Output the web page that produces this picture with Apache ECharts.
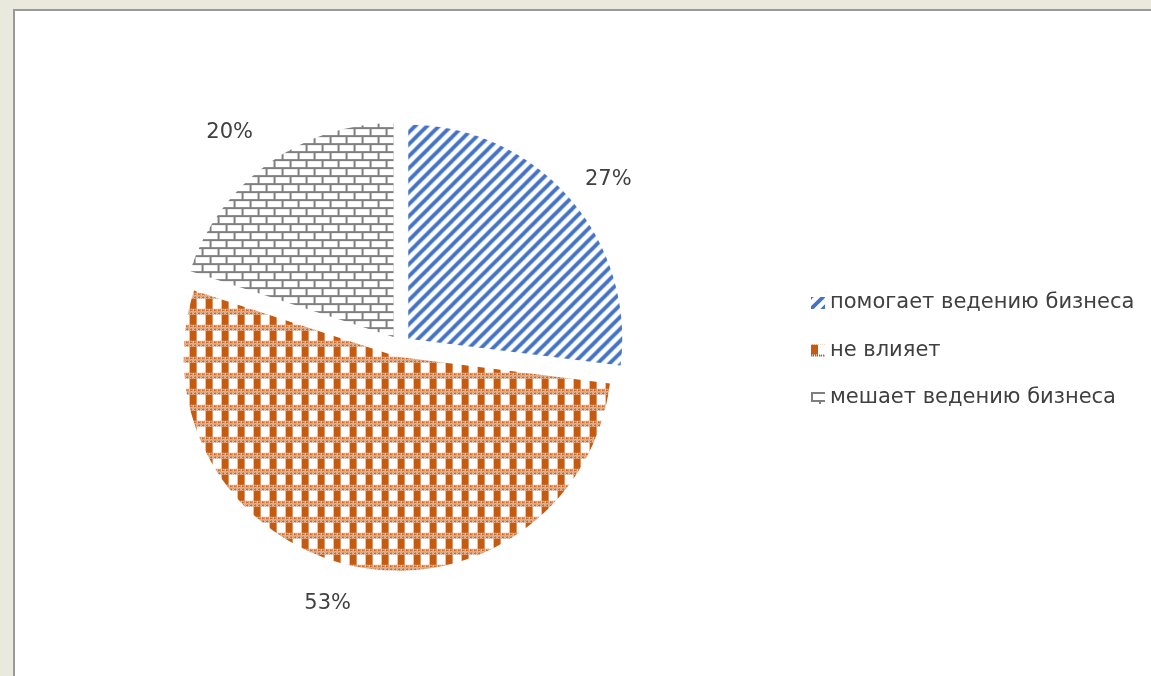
<!DOCTYPE html>
<html><head><meta charset="utf-8">
<script src="https://cdn.jsdelivr.net/npm/echarts@6/dist/echarts.min.js"></script>
<style>
html,body{margin:0;padding:0;width:1151px;height:676px;overflow:hidden;background:#E9E9DE;}
#panel{position:absolute;left:13px;top:9px;width:1200px;height:700px;background:#fff;border-left:2px solid #9a9a9a;border-top:2px solid #9a9a9a;}
#chart{position:absolute;left:0;top:0;width:1151px;height:676px;}
</style></head>
<body>
<div id="panel"></div>
<div id="chart"></div>
<script>
const categories = ['помогает ведению бизнеса', 'не влияет', 'мешает ведению бизнеса'];
const values = [27, 53, 20];

// label placement (pie labelLine lengths; lines hidden)
const labelLen  = [26.8, 38.4, 38.3];
const labelLen2 = [-8.9, -13.5, -12.8];

function mk(w, h, draw){ const c=document.createElement('canvas'); c.width=w; c.height=h; const g=c.getContext('2d'); draw(g,w,h); return c; }
const stripes = mk(12, 12, (g,w,h)=>{
  g.fillStyle='#fff'; g.fillRect(0,0,w,h);
  g.strokeStyle='#4472C4'; g.lineWidth=3.8; g.lineCap='square';
  for (const o of [-w, 0, w]) { g.beginPath(); g.moveTo(o-2, h+2); g.lineTo(o+w+2, -2); g.stroke(); }
});
const plaid = mk(16, 16, (g,w,h)=>{
  g.fillStyle='#fff'; g.fillRect(0,0,w,h);
  g.fillStyle='#C55A11';
  g.fillRect(0,0,7,10);
  for (let y=10; y<16; y++) for (let x=0; x<w; x++) {
    if (y===11 || y===14) { if (x%4!==3) g.fillRect(x,y,1,1); }
    else if ((x+y)%2===0) g.fillRect(x,y,1,1);
  }
});
const bricks = mk(16, 16, (g,w,h)=>{
  g.fillStyle='#fff'; g.fillRect(0,0,w,h);
  g.fillStyle='#7F7F7F';
  g.fillRect(0,0,w,2); g.fillRect(0,8,w,2);
  g.fillRect(0,0,2,8); g.fillRect(8,8,2,8);
});
const fills = [stripes, plaid, bricks];

const chart = echarts.init(document.getElementById('chart'), null, {renderer:'canvas'});
chart.setOption({
  animation:false,
  backgroundColor:'transparent',
  legend:{
    orient:'vertical', left:806, top:287,
    itemWidth:14, itemHeight:12, itemGap:25.5, icon:'rect',
    textStyle:{fontFamily:'DejaVu Sans', fontSize:21, color:'#404040', lineHeight:22},
    data: categories
  },
  series:[{
    type:'pie',
    center:[400,346], radius:214,
    startAngle:90, clockwise:true,
    selectedMode:'multiple', selectedOffset:11,
    avoidLabelOverlap:false,
    label:{show:true, position:'outside', formatter:'{d}%', fontFamily:'DejaVu Sans', fontSize:21, color:'#404040', distanceToLabelLine:5},
    emphasis:{disabled:true},
    itemStyle:{borderWidth:0},
    data: categories.map((n,i)=>({
      name:n, value:values[i], selected:true,
      itemStyle:{color:{image:fills[i], repeat:'repeat'}},
      labelLine:{show:false, length:labelLen[i], length2:labelLen2[i]}
    }))
  }]
});
</script>
</body></html>
